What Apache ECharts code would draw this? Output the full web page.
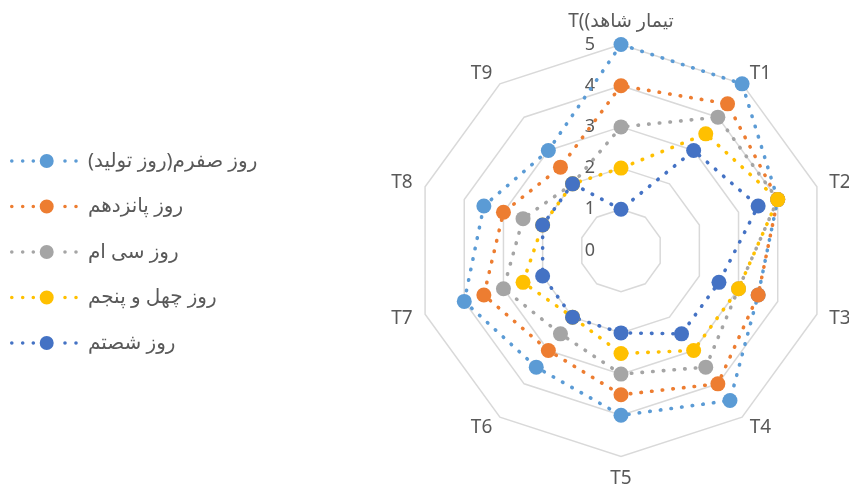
<!DOCTYPE html>
<html>
<head>
<meta charset="utf-8">
<script src="https://cdn.jsdelivr.net/npm/echarts@6/dist/echarts.min.js"></script>
<style>
  html, body { margin: 0; padding: 0; background: #ffffff; }
  #chart { width: 849px; height: 491px; }
</style>
</head>
<body>
<div id="chart"></div>
<script>
// Indicators, clockwise from the top
const indicatorNames = ['T((تیمار شاهد', 'T1', 'T2', 'T3', 'T4', 'T5', 'T6', 'T7', 'T8', 'T9'];
const axisMin = 0;
const axisMax = 5;

// Series names (RLM keeps the closing bracket inside the right-to-left run)
const seriesNames = [
  'روز صفرم(روز تولید)\u200F',
  'روز پانزدهم',
  'روز سی ام',
  'روز چهل و پنجم',
  'روز شصتم'
];

// Scores per indicator (T, T1 ... T9)
const day0  = [5, 5,   4,   3.5, 4.5, 4,   3.5, 4,   3.5, 3];
const day15 = [4, 4.4, 4,   3.5, 4,   3.5, 3,   3.5, 3,   2.5];
const day30 = [3, 4,   4,   3,   3.5, 3,   2.5, 3,   2.5, 2];
const day45 = [2, 3.5, 4,   3,   3,   2.5, 2,   2.5, 2,   2];
const day60 = [1, 3,   3.5, 2.5, 2.5, 2,   2,   2,   2,   2];

const seriesValues = [day0, day15, day30, day45, day60];
const palette = ['#5B9BD5', '#ED7D31', '#A5A5A5', '#FFC000', '#4472C4'];

const textColor = '#595959';
const fontFamily = "'Noto Sans', 'DejaVu Sans', sans-serif";

// ECharts lays radar indicators out counter-clockwise; walk the list backwards
// after the first one so T1 ends up on the right of the top axis.
const order = [0].concat(indicatorNames.map((_, i) => i).slice(1).reverse());

// Legend glyph: dotted line with a marker in the middle
function circlePath(cx, cy, r) {
  return 'M' + (cx - r) + ' ' + cy +
         'a' + r + ' ' + r + ' 0 1 0 ' + (2 * r) + ' 0' +
         'a' + r + ' ' + r + ' 0 1 0 ' + (-2 * r) + ' 0Z';
}
const legendIcon = 'path://' + [
  circlePath(1.8, 7, 1.8),
  circlePath(12.7, 7, 1.8),
  circlePath(23.3, 7, 1.8),
  circlePath(36.7, 7, 7),
  circlePath(55, 7, 1.8),
  circlePath(66, 7, 1.8)
].join('');

const chart = echarts.init(document.getElementById('chart'), null, { renderer: 'canvas' });

chart.setOption({
  animation: false,
  backgroundColor: '#ffffff',
  color: palette,
  legend: {
    orient: 'vertical',
    left: 5,
    top: 146,
    itemWidth: 68,
    itemHeight: 14,
    itemGap: 25.5,
    icon: legendIcon,
    itemStyle: { borderWidth: 0 },
    data: seriesNames,
    textStyle: {
      color: textColor,
      fontSize: 20,
      fontFamily: fontFamily,
      padding: [0, 0, 0, 5]
    }
  },
  radar: {
    center: [621, 250.5],
    radius: 206,
    startAngle: 90,
    splitNumber: 5,
    shape: 'polygon',
    nameGap: 13,
    axisName: {
      color: textColor,
      fontSize: 19,
      fontFamily: fontFamily
    },
    indicator: order.map((i, k) => {
      const ind = { name: indicatorNames[i], min: axisMin, max: axisMax };
      if (k === 0) {
        ind.axisLabel = { show: true };
      }
      return ind;
    }),
    axisLine: { show: false },
    axisTick: { show: false },
    axisLabel: {
      show: false,
      color: textColor,
      fontSize: 18,
      fontFamily: fontFamily,
      margin: 26
    },
    splitLine: { lineStyle: { color: '#d9d9d9', width: 1.5 } },
    splitArea: { show: false }
  },
  series: [{
    type: 'radar',
    symbol: 'circle',
    symbolSize: 15,
    data: seriesValues.map((vals, k) => ({
      name: seriesNames[k],
      value: order.map(i => vals[i]),
      itemStyle: { color: palette[k], borderWidth: 0 },
      lineStyle: { color: palette[k], width: 3.6, type: [0.5, 10.2], cap: 'round' }
    }))
  }]
});
</script>
</body>
</html>
